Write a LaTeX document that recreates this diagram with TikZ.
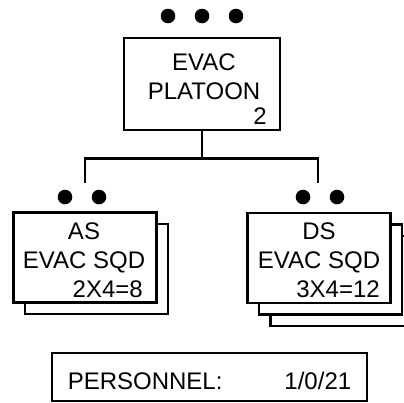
\documentclass[tikz,border=0pt]{standalone}
\usepackage{fontspec}
\setmainfont{Liberation Sans}
\usetikzlibrary{shadows}

\tikzset{
  unit/.style={draw, line width=2.8pt, fill=white, inner sep=0pt},
  sqd/.style={unit, minimum width=143pt, minimum height=90pt},
  stack/.style={copy shadow={fill=white, draw=black, line width=2.8pt,
      shadow xshift=#1, shadow yshift=-#1}},
  lbl/.style={font=\fontsize{24}{28.4}\selectfont, inner sep=0pt, align=center},
  link/.style={line width=2.8pt}
}

\begin{document}
\begin{tikzpicture}[x=1pt, y=-1pt]

    \useasboundingbox (0,0) rectangle (404,402);

    % --- PLATOON (top box) ---
    \node[unit, minimum width=156pt, minimum height=92pt] (plt) at (202,84) {};
    \node[lbl, anchor=north] (pltname) at (204,54) {EVAC\\PLATOON};
    \node[lbl, anchor=base east] (pltnum) at (267,124) {2};

    % Size dots above the platoon
    \foreach \x in {168,202,236}
        \fill (\x,16) circle (7.3pt);

    % --- SQUADS ---
    % AS squad, one box behind
    \node[sqd, stack=11.5pt] (as) at (85,257.5) {};
    \node[lbl, anchor=north] (asname) at (84,223) {AS\\EVAC SQD};
    \node[lbl, anchor=base east] (asnum) at (143,297) {2X4=8};

    % DS squad, two boxes behind
    \node[sqd, stack=23pt, stack=11.5pt] (ds) at (319,258) {};
    \node[lbl, anchor=north] (dsname) at (319,223) {DS\\EVAC SQD};
    \node[lbl, anchor=base east] (dsnum) at (380,297) {3X4=12};

    % Size dots above the squads
    \foreach \x in {65,99}
        \fill (\x,197) circle (7.3pt);
    \foreach \x in {303,337}
        \fill (\x,197) circle (7.3pt);

    % --- TREE LINES ---
    \coordinate (asend) at (85,183);
    \coordinate (dsend) at (318,183);
    \draw[link] (plt.south) -- ++(0,27) -| (asend);
    \draw[link] (plt.south) -- ++(0,27) -| (dsend);

    % Personnel total
    \node[unit, lbl, anchor=base, minimum width=315pt, text height=36pt, text depth=12pt]
        (pers) at (209.5,389) {PERSONNEL:\hspace{62pt}1/0/21};

\end{tikzpicture}
\end{document}
